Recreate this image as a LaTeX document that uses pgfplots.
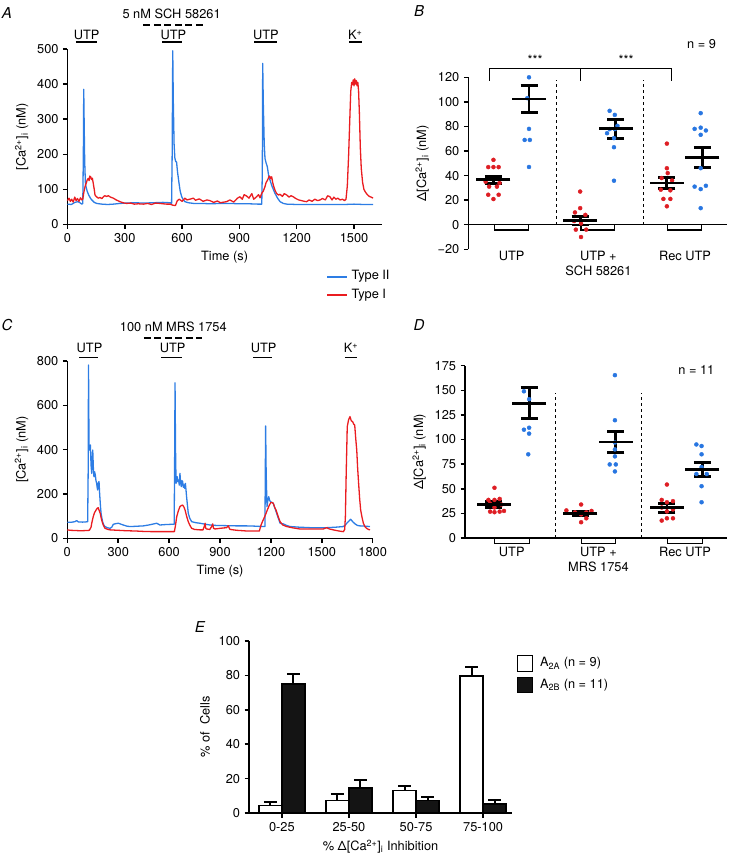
\documentclass[border=0pt]{standalone}
\usepackage{fontspec}
\setmainfont{TeX Gyre Heros}
\usepackage{pgfplots}
\pgfplotsset{compat=1.18}
\definecolor{trblue}{RGB}{45,125,228}
\definecolor{trred}{RGB}{234,28,32}
\definecolor{dotblue}{RGB}{40,118,225}
\definecolor{dotred}{RGB}{222,30,36}
\newcommand\figfont{\fontsize{12.8}{14}\selectfont}
\pgfplotsset{
  base/.style={
    scale only axis, clip=false, enlargelimits=false,
    axis lines=left, axis line style={-, line width=1.5pt},
    tick align=outside, major tick length=4.5pt,
    tick style={line width=1.5pt, black},
    tick label style={font=\figfont},
    label style={font=\figfont},
    /pgf/number format/assume math mode=true,
    /pgf/number format/1000 sep={},
  },
  trace/.style={line width=1.3pt, line join=round, mark=none},
  dots/.style={only marks, mark=*, mark size=2pt},
  means/.style={only marks, mark=-, mark size=17pt, mark options={line width=2.8pt, black},
    error bars/.cd, y dir=both, y explicit, error mark=|,
    error mark options={mark size=8.5pt, line width=2.8pt, black},
    error bar style={line width=2.8pt, black}},
  catlabels/.style={xtick={0,1,2}, major x tick style={draw=none},
    x axis line style={draw=none},
    xticklabel style={align=center, font=\fontsize{12.8}{15}\selectfont}},
}
\begin{document}
\figfont
\begin{tikzpicture}[every node/.style={font=\figfont}]
\useasboundingbox (0,0) rectangle (730pt,860pt);

% ---------------- A ----------------
\begin{axis}[base, at={(67.5pt,635.5pt)}, anchor=south west,
  width=314.2pt, height=175.5pt,
  xmin=0, xmax=1645, ymin=0, ymax=500,
  xtick={0,300,...,1500}, ytick={0,100,...,500},
  xlabel={Time (s)}, ylabel={[Ca\textsuperscript{2+}]\textsubscript{i} (nM)}]
\addplot[trace, trblue] coordinates {
(0,58) (20,57) (39,63) (55,65) (65,62) (75,58) (80,60) (83,200) (85,385) (87,300) (90,180)
(94,115) (97,108) (103,95) (110,85) (120,75) (127,70) (140,63) (153,60) (180,58) (210,57)
(240,58) (275,60) (310,61) (350,62) (400,61) (450,62) (500,63) (537,62) (545,60) (548,200)
(551,495) (554,350) (558,230) (562,190) (566,180) (571,178) (576,150) (584,117) (590,95)
(598,79) (607,70) (615,65) (633,62) (660,60) (700,60) (750,59) (800,60) (850,60) (900,59)
(950,59) (1000,58) (1017,58) (1020,150) (1022,459) (1025,350) (1030,230) (1034,188)
(1040,175) (1046,165) (1053,140) (1060,127) (1070,110) (1086,89) (1100,75) (1113,65)
(1130,60) (1148,58) (1200,57) (1250,57) (1300,57) (1350,57) (1400,57) (1450,57) (1500,58)
(1550,57) (1600,57)};
\addplot[trace, trred] coordinates {
(0,68) (8,75) (15,66) (22,72) (30,64) (38,78) (45,68) (52,74) (60,66) (68,76) (75,70) (80,72)
(85,90) (92,108) (98,118) (104,128) (109,131) (113,125) (117,138) (121,136) (126,128)
(130,132) (135,117) (140,100) (144,84) (150,80) (161,75) (170,77) (180,74) (188,79) (195,82)
(205,80) (214,82) (225,78) (240,75) (255,70) (275,65) (290,62) (310,60) (330,61) (350,58)
(370,59) (397,58) (420,60) (440,57) (460,61) (484,60) (500,59) (520,58) (537,58) (551,55)
(565,54) (575,68) (585,72) (600,66) (615,75) (625,70) (640,72) (659,75) (670,69) (690,73)
(710,66) (730,70) (746,68) (765,63) (785,67) (800,62) (833,65) (850,70) (870,64) (890,75)
(903,79) (915,72) (925,85) (938,81) (950,75) (965,88) (975,72) (990,79) (1000,85) (1008,76)
(1017,89) (1025,95) (1034,108) (1040,120) (1046,125) (1051,131) (1056,138) (1060,136)
(1065,130) (1069,136) (1075,118) (1080,108) (1086,98) (1095,88) (1105,84) (1113,86)
(1125,80) (1135,88) (1148,84) (1160,78) (1170,82) (1182,79) (1195,74) (1210,70) (1225,68)
(1240,66) (1252,65) (1265,70) (1280,66) (1295,72) (1310,68) (1322,70) (1335,74) (1350,70)
(1362,82) (1374,79) (1385,70) (1395,78) (1405,72) (1415,75) (1427,70) (1440,72) (1450,68)
(1458,72) (1465,110) (1472,200) (1478,300) (1483,380) (1488,405) (1492,398) (1496,412)
(1500,395) (1504,415) (1508,400) (1512,410) (1516,395) (1520,405) (1524,380) (1528,320)
(1533,220) (1538,160) (1545,120) (1552,100) (1560,92) (1570,85) (1580,80) (1590,78) (1600,75)};
% application bars
\draw[line width=1.8pt] (44,519) -- (153,519);
\draw[line width=1.8pt] (496,519) -- (598,519);
\draw[line width=1.8pt] (978,519) -- (1095,519);
\draw[line width=1.8pt] (1475,519) -- (1541,519);
\node[anchor=base] at (100,526) {UTP};
\node[anchor=base] at (554,526) {UTP};
\node[anchor=base] at (1039,526) {UTP};
\node[anchor=base] at (1507,526) {K\textsuperscript{+}};
\draw[line width=1.8pt, dash pattern=on 7pt off 3.5pt] (397,569) -- (711,569);
\node[anchor=base] at (545,587) {5 nM SCH 58261};
\end{axis}

% legend A
\draw[trblue, line width=1.8pt] (327.3pt,583.3pt) -- (347.3pt,583.3pt);
\draw[trred, line width=1.8pt] (327.3pt,565pt) -- (347.3pt,565pt);
\node[anchor=west, inner sep=0pt] at (351.5pt,583.3pt) {Type II};
\node[anchor=west, inner sep=0pt] at (351.5pt,565pt) {Type I};

% ---------------- B ----------------
\begin{axis}[base, catlabels, at={(468.3pt,610.7pt)}, anchor=south west,
  width=258.4pt, height=172pt,
  xmin=-0.50, xmax=2.48, ymin=-20, ymax=120,
  ytick={-20,0,...,120}, yticklabels={−20,0,20,40,60,80,100,120},
  xticklabels={UTP, {UTP +\\SCH 58261}, Rec UTP},
  xticklabel style={yshift=7pt},
  ylabel={Δ[Ca\textsuperscript{2+}]\textsubscript{i} (nM)}]
\draw[line width=1.5pt] (-0.50,0) -- (2.48,0);
\draw[line width=1.2pt, fill=white] (-0.2,0) rectangle (0.19,-4.3);
\draw[line width=1.2pt, fill=white] (0.8,0) rectangle (1.19,-4.3);
\draw[line width=1.2pt, fill=white] (1.8,0) rectangle (2.19,-4.3);
\draw[line width=1pt, dashed] (0.52,0) -- (0.52,117.8);
\draw[line width=1pt, dashed] (1.52,0) -- (1.52,117.8);
\draw[line width=0.9pt] (-0.26,117) -- (-0.26,127.3) -- (1.845,127.3) -- (1.845,117);
\draw[line width=0.9pt] (0.79,127.3) -- (0.79,117);
\node at (0.27,134) {***};
\node at (1.32,134) {***};
\node at (2.19,147) {n = 9};
\addplot[dots, dotred] coordinates {
(-0.21,52.8) (-0.27,46.9) (-0.21,46.9) (-0.15,46.9) (-0.3,35) (-0.14,34) (-0.26,31)
(-0.17,31) (-0.27,24.4) (-0.15,24.4) (-0.21,20.9)
(0.79,27) (0.79,13.5) (0.73,10) (0.85,8) (0.72,3) (0.8,1) (0.74,-4) (0.86,-4) (0.8,-10)
(1.79,66) (1.79,46) (1.8,42) (1.73,38) (1.85,36) (1.72,28.5) (1.83,28) (1.75,21) (1.83,21) (1.79,15)};
\addplot[dots, dotblue] coordinates {
(0.2,120) (0.18,103) (0.2,78) (0.15,69) (0.21,69) (0.2,47)
(1.13,92.7) (1.19,89.4) (1.22,80.5) (1.13,77.8) (1.19,77.8) (1.1,74.5) (1.18,70.5) (1.18,63.1) (1.18,35.8)
(2.18,90.8) (2.11,78) (2.18,79) (2.24,76.7) (2.18,73.2) (2.18,46) (2.11,31) (2.24,31.7) (2.18,29) (2.18,13.5)};
\addplot[means] coordinates {
(-0.21,36.5) +- (0,3) (0.2,102.4) +- (0,11.2)
(0.79,3.3) +- (0,3.6) (1.2,78) +- (0,7.7)
(1.79,33.9) +- (0,4.7) (2.2,54.7) +- (0,8)};
\end{axis}

% ---------------- C ----------------
\begin{axis}[base, at={(67.3pt,321.7pt)}, anchor=south west,
  width=305.4pt, height=177.3pt,
  xmin=0, xmax=1800, ymin=0, ymax=800,
  xtick={0,300,...,1800}, ytick={0,200,...,800},
  xlabel={Time (s)}, ylabel={[Ca\textsuperscript{2+}]\textsubscript{i} (nM)}]
\addplot[trace, trblue] coordinates {
(0,72) (20,72) (45,75) (55,80) (65,74) (90,73) (110,74) (120,75) (123,300) (125,782) (128,420)
(130,398) (133,410) (136,421) (140,330) (144,293) (147,360) (150,398) (154,310) (157,278)
(161,300) (165,286) (169,260) (173,248) (176,230) (179,218) (183,250) (187,256) (190,210)
(193,173) (196,140) (199,113) (204,90) (208,75) (215,60) (222,53) (235,48) (252,45) (262,50)
(271,63) (285,66) (301,68) (315,64) (330,60) (350,55) (370,53) (400,54) (448,56) (480,60)
(510,65) (527,68) (546,60) (580,62) (610,63) (630,63) (633,400) (635,702) (638,400) (641,248)
(645,265) (648,278) (652,255) (656,263) (660,240) (664,293) (668,250) (672,233) (676,260)
(680,256) (684,230) (688,241) (692,225) (696,248) (700,215) (703,188) (708,150) (713,113)
(722,90) (733,75) (760,70) (782,68) (810,64) (841,60) (880,58) (939,57) (1000,56) (1057,56)
(1100,55) (1150,53) (1165,53) (1167,300) (1169,507) (1172,300) (1177,143) (1182,170)
(1187,188) (1193,170) (1199,165) (1207,160) (1214,158) (1224,135) (1234,113) (1244,90)
(1254,68) (1263,66) (1273,65) (1293,58) (1313,53) (1371,50) (1430,48) (1480,48) (1529,48)
(1580,50) (1627,53) (1639,60) (1647,68) (1660,78) (1670,86) (1682,75) (1696,65) (1710,58)
(1725,56) (1750,55) (1784,53)};
\addplot[trace, trred] coordinates {
(0,38) (20,36) (50,35) (80,34) (110,35) (130,36) (140,50) (144,68) (152,95) (160,115) (170,128)
(176,135) (182,138) (188,125) (194,113) (200,90) (208,68) (215,55) (222,45) (240,40) (252,38)
(300,36) (350,34) (400,33) (450,31) (500,30) (546,30) (600,30) (631,30) (637,55) (645,98)
(655,125) (664,143) (672,148) (680,150) (688,140) (694,128) (703,100) (713,75) (723,58)
(733,45) (750,40) (782,38) (800,38) (810,60) (812,68) (816,45) (821,42) (840,40) (852,55)
(857,65) (862,45) (871,42) (900,45) (939,48) (949,57) (955,45) (959,40) (1000,36) (1057,33)
(1100,33) (1132,33) (1142,60) (1150,75) (1159,90) (1170,110) (1179,128) (1190,148) (1199,161)
(1207,162) (1214,158) (1222,140) (1230,128) (1242,100) (1254,75) (1270,60) (1293,53)
(1330,47) (1371,42) (1430,42) (1480,42) (1509,42) (1529,48) (1545,42) (1568,38) (1600,33)
(1627,30) (1635,40) (1639,98) (1644,300) (1650,504) (1658,535) (1666,549) (1674,530)
(1682,526) (1688,515) (1694,511) (1700,450) (1706,398) (1711,320) (1717,248) (1723,180)
(1729,128) (1737,95) (1745,68) (1755,52) (1764,45) (1775,40) (1784,38)};
\draw[line width=1.8pt] (69,816) -- (179,816);
\draw[line width=1.8pt] (555,816) -- (674,816);
\draw[line width=1.8pt] (1096,816) -- (1204,816);
\draw[line width=1.8pt] (1636,816) -- (1705,816);
\node[anchor=base] at (131,837) {UTP};
\node[anchor=base] at (621,837) {UTP};
\node[anchor=base] at (1157,837) {UTP};
\node[anchor=base] at (1672,837) {K\textsuperscript{+}};
\draw[line width=1.8pt, dash pattern=on 7pt off 3.5pt] (452,905) -- (795,905);
\node[anchor=base] at (625,935) {100 nM MRS 1754};
\end{axis}

% ---------------- D ----------------
\begin{axis}[base, catlabels, at={(465pt,322pt)}, anchor=south west,
  width=261.7pt, height=172.3pt,
  xmin=-0.54, xmax=2.48, ymin=0, ymax=175,
  ytick={0,25,...,175},
  xticklabels={UTP, {UTP +\\MRS 1754}, Rec UTP},
  ylabel={Δ[Ca\textsuperscript{2+}]\textsubscript{i} (nM)}]
\draw[line width=1.5pt] (-0.54,0) -- (2.48,0);
\draw[line width=1.2pt, fill=white] (-0.2,0) rectangle (0.2,-5.5);
\draw[line width=1.2pt, fill=white] (0.8,0) rectangle (1.2,-5.5);
\draw[line width=1.2pt, fill=white] (1.8,0) rectangle (2.2,-5.5);
\draw[line width=1pt, dashed] (0.51,0) -- (0.51,147.5);
\draw[line width=1pt, dashed] (1.5,0) -- (1.5,147.5);
\node at (2.13,170.6) {n = 11};
\addplot[dots, dotred] coordinates {
(-0.2,51) (-0.27,38.7) (-0.2,38.7) (-0.14,39.7) (-0.25,35) (-0.12,34) (-0.2,31) (-0.25,26.8)
(-0.2,26.2) (-0.14,26.8) (-0.09,27.5)
(0.63,28) (0.8,34) (0.73,26) (0.86,26) (0.92,27.5) (0.8,24) (0.86,20) (0.8,16)
(1.79,54.3) (1.73,38.7) (1.79,36.3) (1.86,37.4) (1.73,31) (1.86,29) (1.79,27) (1.79,20)
(1.86,20) (1.73,17.7)};
\addplot[dots, dotblue] coordinates {
(0.14,149) (0.2,141) (0.14,110) (0.2,112) (0.2,106) (0.19,85)
(1.19,165.4) (1.19,119.6) (1.19,97) (1.19,90) (1.19,82.9) (1.13,74.7) (1.2,74.7) (1.19,67.6)
(2.13,95) (2.19,93.4) (2.19,85) (2.13,65) (2.25,65) (2.19,52.6) (2.19,36.3) (2.19,72)};
\addplot[means] coordinates {
(-0.21,34) +- (0,3.2) (0.2,137) +- (0,16)
(0.79,25.1) +- (0,2.4) (1.2,97.5) +- (0,10.3)
(1.79,30.6) +- (0,4.4) (2.2,69.6) +- (0,6.8)};
\end{axis}

% ---------------- E ----------------
\begin{axis}[base, at={(249pt,47pt)}, anchor=south west,
  width=263pt, height=172pt,
  xmin=-0.49, xmax=3.43, ymin=0, ymax=100,
  ytick={0,20,...,100},
  xtick={0,1,2,3}, xticklabels={0-25,25-50,50-75,75-100},
  ybar=0pt, bar width=23pt,
  xlabel={\% Δ[Ca\textsuperscript{2+}]\textsubscript{i} Inhibition},
  ylabel={\% of\ \ Cells}]
\addplot[fill=white, draw=black, line width=1.8pt,
  error bars/.cd, y dir=plus, y explicit, error mark=|,
  error mark options={mark size=6.5pt, line width=2pt, black},
  error bar style={line width=2pt, black}]
  coordinates {(0,4.4) +- (0,1.8) (1,7.3) +- (0,3.7) (2,13.1) +- (0,2.7) (3,79.6) +- (0,5)};
\addplot[fill=black!92, draw=black, line width=1.8pt,
  error bars/.cd, y dir=plus, y explicit, error mark=|,
  error mark options={mark size=6.5pt, line width=2pt, black},
  error bar style={line width=2pt, black}]
  coordinates {(0,75) +- (0,6) (1,14.7) +- (0,4.4) (2,7.3) +- (0,1.8) (3,5.4) +- (0,2.1)};
\end{axis}

% legend E
\draw[line width=1.8pt, fill=white] (517.5pt,188.5pt) rectangle (532.5pt,204.5pt);
\draw[line width=1.8pt, fill=black!92] (517.5pt,167.5pt) rectangle (532.5pt,182.5pt);
\node[anchor=west, inner sep=0pt] at (540pt,196.5pt) {A\textsubscript{2A} (n = 9)};
\node[anchor=west, inner sep=0pt] at (540pt,175pt) {A\textsubscript{2B} (n = 11)};

% panel letters
\node[font=\fontsize{15}{17}\selectfont\itshape] at (7pt,847pt) {A};
\node[font=\fontsize{15}{17}\selectfont\itshape] at (419pt,849pt) {B};
\node[font=\fontsize{15}{17}\selectfont\itshape] at (7pt,535pt) {C};
\node[font=\fontsize{15}{17}\selectfont\itshape] at (419pt,535pt) {D};
\node[font=\fontsize{15}{17}\selectfont\itshape] at (200pt,233pt) {E};
\end{tikzpicture}
\end{document}
